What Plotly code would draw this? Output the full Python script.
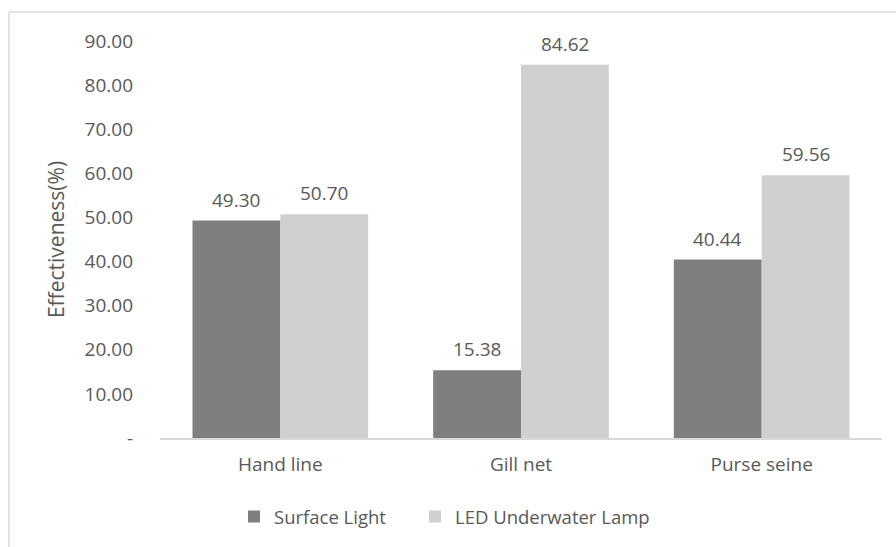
import plotly.graph_objects as go

categories = ["Hand line", "Gill net", "Purse seine"]
surface_light = [49.30, 15.38, 40.44]
led_underwater = [50.70, 84.62, 59.56]
y_ticks = [0, 10, 20, 30, 40, 50, 60, 70, 80, 90]
y_tick_labels = ["-", "10.00", "20.00", "30.00", "40.00", "50.00", "60.00", "70.00", "80.00", "90.00"]

W, H = 896, 547
L, R, T, B = 160, 14, 41, 109
FONT = "Open Sans, Lato, sans-serif"
TXT = "#595959"
LABEL_SIZE = 19

fig = go.Figure()
fig.add_bar(name="Surface Light", x=categories, y=surface_light,
            marker_color="#7f7f7f", marker_line_width=0, legend="legend")
fig.add_bar(name="LED Underwater Lamp", x=categories, y=led_underwater,
            marker_color="#d0d0d0", marker_line_width=0, legend="legend2")

pw = W - L - R
ph = H - T - B
def px_x(p):
    return (p - L) / pw
def px_y(p):
    return (H - B - p) / ph

# value labels above each bar (bar centres sit half a bar width either side of the category)
bargap = 0.27
half_bar = pw / len(categories) * (1 - bargap) / 4
for series, shift in ((surface_light, -half_bar), (led_underwater, half_bar)):
    for cat, v in zip(categories, series):
        fig.add_annotation(x=cat, y=v, xref="x", yref="y", text=f"{v:.2f}",
                           showarrow=False, xshift=shift, yshift=21, yanchor="middle",
                           font=dict(size=LABEL_SIZE, color=TXT, family=FONT))

# outer chart frame
frame = dict(type="line", xref="paper", yref="paper", line=dict(color="#d9d9d9", width=1.5))
fig.add_shape(**frame, x0=px_x(9), x1=px_x(900), y0=px_y(12), y1=px_y(12))
fig.add_shape(**frame, x0=px_x(9), x1=px_x(9), y0=px_y(12), y1=px_y(560))

legend_style = dict(orientation="h", xanchor="left", y=px_y(517), yanchor="middle",
                    font=dict(size=18.5, color=TXT), bgcolor="rgba(0,0,0,0)")

fig.update_layout(
    width=W, height=H,
    margin=dict(l=L, r=R, t=T, b=B, autoexpand=False),
    paper_bgcolor="white", plot_bgcolor="white",
    barmode="group", bargap=bargap, bargroupgap=0,
    font=dict(family=FONT, size=LABEL_SIZE, color=TXT),
    showlegend=True,
    legend=dict(x=px_x(234), **legend_style),
    legend2=dict(x=px_x(415), **legend_style),
    xaxis=dict(showline=True, linecolor="#d9d9d9", linewidth=1.5, ticks="",
               showgrid=False, tickfont=dict(size=LABEL_SIZE, color=TXT), ticklabelstandoff=8),
    yaxis=dict(range=[0, 90], tickvals=y_ticks, ticktext=y_tick_labels, showgrid=False,
               zeroline=False, showline=False, ticks="", ticklabelstandoff=26,
               tickfont=dict(size=LABEL_SIZE, color=TXT),
               title=dict(text="Effectiveness(%)", font=dict(size=21, color=TXT), standoff=14)),
)

fig.write_html("out.html")
